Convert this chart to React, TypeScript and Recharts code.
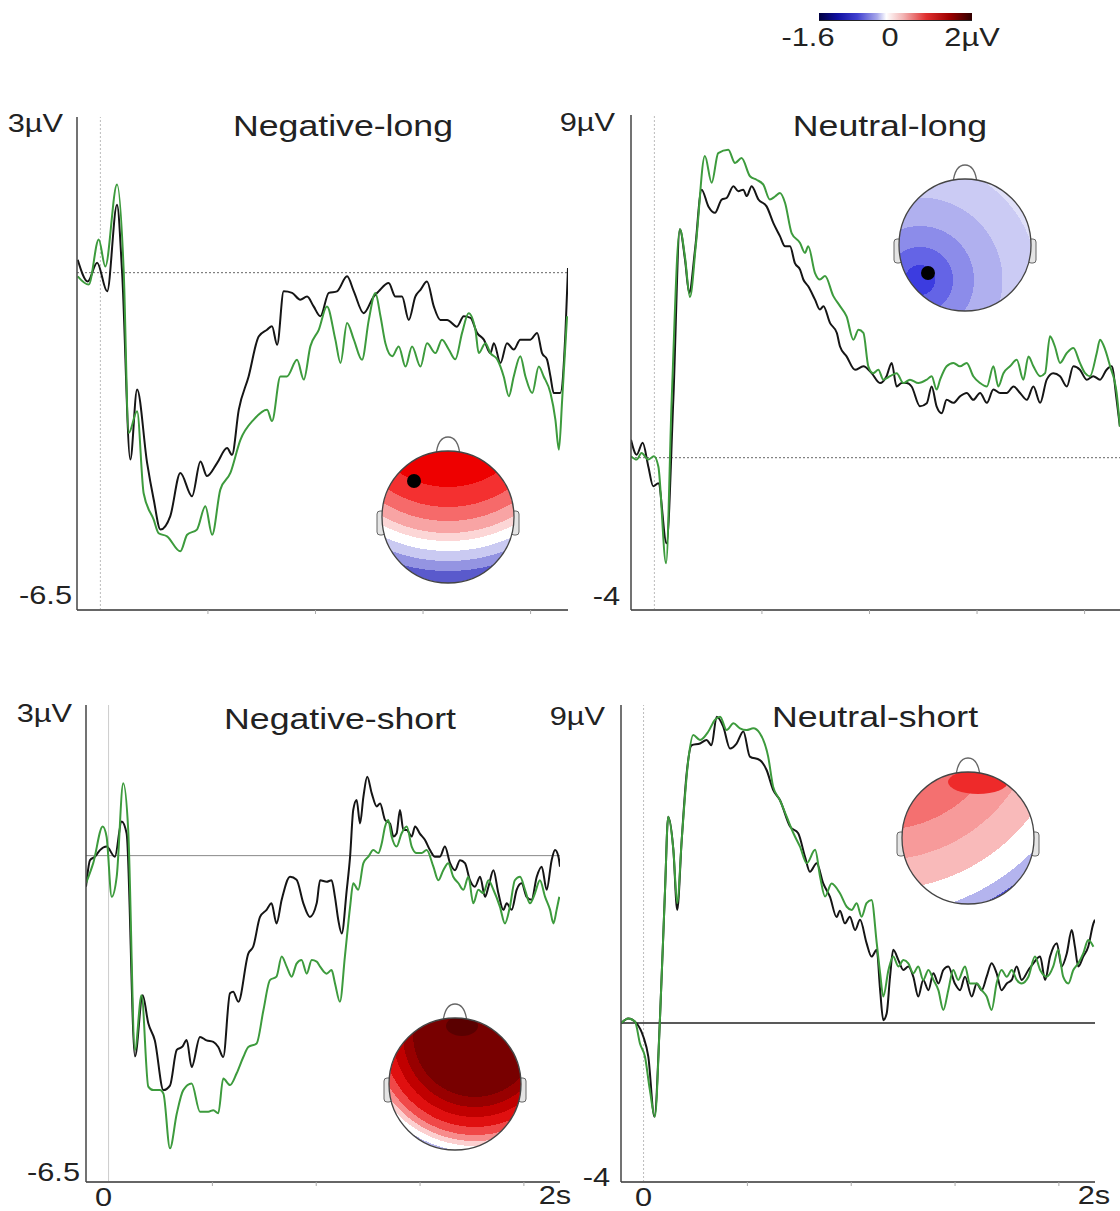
import React from 'react';
import { LineChart, Line, XAxis, YAxis, ReferenceLine } from 'recharts';

type Pt = [number, number];

// ---- Negative-long (time s, amplitude µV)
const negLongBlack: Pt[] = [
  [-0.097, 0.25], [-0.054, -0.17], [-0.014, 0.19], [0.029, -0.36], [0.071, 1.31], [0.093, 0], [0.128, -3.6], [0.157, -2.25],
  [0.2, -3.67], [0.228, -4.37], [0.257, -4.95], [0.299, -4.69], [0.342, -3.86], [0.392, -4.31], [0.428, -3.64], [0.456, -3.92],
  [0.499, -3.67], [0.542, -3.38], [0.563, -3.51], [0.592, -2.64], [0.634, -2.0], [0.677, -1.23], [0.713, -1.1], [0.734, -1.03],
  [0.756, -1.39], [0.784, -0.36], [0.82, -0.39], [0.855, -0.52], [0.884, -0.46], [0.912, -0.65], [0.941, -0.84], [0.977, -0.39],
  [1.012, -0.36], [1.055, -0.07], [1.084, -0.36], [1.126, -0.78], [1.169, -0.46], [1.19, -0.36], [1.233, -0.2], [1.262, -0.46],
  [1.29, -0.46], [1.319, -0.91], [1.347, -0.46], [1.369, -0.33], [1.397, -0.17], [1.426, -0.65], [1.454, -0.91], [1.483, -0.91],
  [1.525, -1.04], [1.554, -0.84], [1.583, -0.87], [1.611, -1.16], [1.64, -1.29], [1.668, -1.55], [1.683, -1.36], [1.711, -1.74],
  [1.739, -1.36], [1.768, -1.48], [1.796, -1.29], [1.839, -1.29], [1.868, -1.16], [1.889, -1.55], [1.91, -1.67], [1.925, -2.0],
  [1.939, -2.32], [1.967, -2.32], [1.989, -1.16], [2.0, 0.09],
];
const negLongGreen: Pt[] = [
  [-0.097, -0.07], [-0.05, -0.23], [-0.007, 0.64], [0.021, 0.12], [0.071, 1.7], [0.1, 0], [0.121, -3.09], [0.157, -2.67],
  [0.185, -4.25], [0.228, -4.76], [0.249, -5.02], [0.285, -5.08], [0.342, -5.37], [0.371, -5.05], [0.413, -4.95], [0.449, -4.5],
  [0.478, -5.05], [0.513, -4.18], [0.556, -3.86], [0.599, -3.22], [0.656, -2.83], [0.713, -2.64], [0.734, -2.86], [0.77, -2.0],
  [0.798, -2.0], [0.841, -1.68], [0.87, -2.06], [0.898, -1.42], [0.934, -1.1], [0.969, -0.65], [1.005, -1.29], [1.027, -1.74],
  [1.055, -0.97], [1.084, -1.29], [1.119, -1.68], [1.148, -0.91], [1.176, -0.39], [1.198, -0.84], [1.219, -1.36], [1.248, -1.61],
  [1.276, -1.42], [1.305, -1.81], [1.333, -1.42], [1.369, -1.81], [1.397, -1.36], [1.433, -1.55], [1.461, -1.29], [1.49, -1.48],
  [1.518, -1.67], [1.547, -1.16], [1.575, -0.78], [1.604, -1.1], [1.618, -1.55], [1.647, -1.36], [1.668, -1.55], [1.697, -1.67],
  [1.725, -2.0], [1.747, -2.38], [1.768, -2.0], [1.796, -1.61], [1.818, -2.0], [1.847, -2.32], [1.875, -1.81], [1.896, -2.0],
  [1.925, -2.32], [1.946, -2.83], [1.961, -3.41], [1.975, -2.45], [1.996, -0.84],
];

// ---- Neutral-long
const neuLongBlack: Pt[] = [
  [-0.1, 0.47], [-0.076, 0.08], [-0.05, 0.39], [-0.026, -0.23], [-0.005, -0.75], [0.017, -0.67], [0.052, -2.25], [0.081, 1.52],
  [0.109, 6.0], [0.131, 5.2], [0.149, 4.33], [0.174, 5.47], [0.202, 7.04], [0.231, 6.6], [0.259, 6.43], [0.288, 6.78],
  [0.309, 6.82], [0.338, 7.13], [0.359, 7.0], [0.38, 7.04], [0.395, 6.87], [0.416, 7.13], [0.445, 6.78], [0.48, 6.6],
  [0.509, 6.16], [0.537, 5.82], [0.559, 5.55], [0.58, 5.55], [0.601, 5.11], [0.623, 4.94], [0.637, 4.68], [0.658, 4.5],
  [0.687, 4.15], [0.708, 3.89], [0.723, 3.98], [0.751, 3.54], [0.78, 3.28], [0.794, 2.92], [0.822, 2.66], [0.858, 2.31],
  [0.894, 2.4], [0.929, 2.22], [0.965, 1.96], [0.993, 2.14], [1.015, 2.49], [1.036, 1.87], [1.058, 1.96], [1.079, 1.96],
  [1.1, 1.87], [1.136, 1.35], [1.165, 1.43], [1.186, 1.87], [1.207, 1.35], [1.229, 1.17], [1.25, 1.52], [1.279, 1.44],
  [1.307, 1.61], [1.336, 1.7], [1.364, 1.52], [1.393, 1.7], [1.422, 1.44], [1.45, 1.79], [1.479, 1.7], [1.507, 1.7],
  [1.536, 1.87], [1.564, 1.7], [1.593, 1.52], [1.621, 1.87], [1.65, 1.44], [1.678, 2.05], [1.706, 2.22], [1.735, 2.14],
  [1.764, 1.87], [1.792, 2.4], [1.82, 2.31], [1.849, 2.05], [1.877, 2.14], [1.906, 2.05], [1.934, 2.31], [1.956, 2.4],
  [1.977, 1.52], [1.991, 0.82],
];
const neuLongGreen: Pt[] = [
  [-0.1, 0.04], [-0.076, -0.05], [-0.055, 0.12], [-0.026, -0.05], [-0.002, 0.04], [0.017, -0.23], [0.05, -2.77], [0.074, 1.52],
  [0.109, 6.0], [0.131, 5.27], [0.152, 4.22], [0.178, 5.62], [0.216, 7.92], [0.245, 7.22], [0.273, 8.0], [0.316, 8.09],
  [0.345, 7.74], [0.373, 7.87], [0.409, 7.39], [0.437, 7.3], [0.466, 7.17], [0.494, 6.78], [0.516, 6.86], [0.537, 6.95],
  [0.559, 6.69], [0.587, 5.9], [0.623, 5.64], [0.644, 5.38], [0.658, 5.55], [0.687, 4.85], [0.708, 4.68], [0.73, 4.77],
  [0.765, 4.25], [0.794, 3.98], [0.822, 3.71], [0.851, 3.1], [0.873, 3.36], [0.894, 3.28], [0.915, 2.4], [0.936, 2.22],
  [0.958, 2.31], [0.979, 2.05], [1.008, 2.14], [1.036, 2.22], [1.065, 1.96], [1.093, 2.05], [1.129, 1.96], [1.165, 2.05],
  [1.186, 2.14], [1.207, 1.79], [1.222, 2.05], [1.25, 2.4], [1.279, 2.49], [1.307, 2.4], [1.336, 2.49], [1.364, 2.14],
  [1.393, 1.96], [1.422, 1.87], [1.45, 2.4], [1.471, 1.87], [1.493, 2.22], [1.521, 2.4], [1.55, 2.57], [1.578, 2.05],
  [1.6, 2.66], [1.621, 2.4], [1.65, 2.14], [1.671, 2.22], [1.692, 3.19], [1.713, 2.92], [1.735, 2.49], [1.764, 2.75],
  [1.792, 2.88], [1.82, 2.49], [1.842, 2.22], [1.863, 2.14], [1.892, 2.75], [1.906, 3.1], [1.928, 2.84], [1.949, 2.4],
  [1.977, 1.7], [1.991, 0.82],
];

// ---- Negative-short
const negShortBlack: Pt[] = [
  [-0.1, -0.62], [-0.082, -0.09], [-0.06, -0.02], [-0.038, 0.11], [-0.009, 0.18], [0.028, -0.02], [0.058, 0.68], [0.08, 0.44],
  [0.117, -4.0], [0.151, -2.78], [0.176, -3.34], [0.205, -3.68], [0.243, -4.67], [0.272, -4.58], [0.302, -3.87], [0.328, -3.8],
  [0.346, -3.67], [0.368, -4.21], [0.405, -3.61], [0.434, -3.68], [0.464, -3.71], [0.486, -3.81], [0.508, -4.01], [0.538, -2.74],
  [0.552, -2.71], [0.575, -2.91], [0.619, -1.95], [0.641, -1.81], [0.671, -1.22], [0.7, -1.08], [0.722, -0.95], [0.744, -1.35],
  [0.767, -0.88], [0.804, -0.42], [0.833, -0.48], [0.863, -0.95], [0.892, -1.22], [0.922, -0.95], [0.937, -0.49], [0.966, -0.52],
  [0.988, -0.49], [1.003, -0.82], [1.018, -1.29], [1.033, -1.55], [1.055, -0.69], [1.07, -0.02], [1.084, 0.91], [1.099, 1.11],
  [1.114, 0.64], [1.129, 1.17], [1.146, 1.57], [1.166, 1.24], [1.188, 0.98], [1.203, 1.04], [1.225, 0.71], [1.247, 0.64],
  [1.262, 0.38], [1.276, 0.44], [1.291, 0.91], [1.306, 0.51], [1.321, 0.51], [1.343, 0.38], [1.358, 0.58], [1.379, 0.44],
  [1.402, 0.31], [1.424, 0.11], [1.446, -0.02], [1.468, -0.02], [1.49, 0.18], [1.513, -0.15], [1.535, -0.29], [1.557, -0.09],
  [1.579, -0.15], [1.601, -0.49], [1.623, -0.62], [1.646, -0.42], [1.668, -0.82], [1.683, -0.62], [1.705, -0.29], [1.727, -0.75],
  [1.749, -1.08], [1.764, -0.95], [1.786, -1.08], [1.808, -0.68], [1.83, -0.55], [1.852, -0.82], [1.874, -0.88], [1.897, -0.42],
  [1.919, -0.22], [1.941, -0.68], [1.963, -0.09], [1.978, 0.11], [1.993, -0.02], [2.0, -0.22],
];
const negShortGreen: Pt[] = [
  [-0.1, -0.55], [-0.068, -0.15], [-0.026, 0.58], [-0.009, 0.38], [0.014, -0.82], [0.036, -0.42], [0.065, 1.44], [0.087, 0.51],
  [0.117, -3.87], [0.146, -2.78], [0.176, -4.6], [0.198, -4.67], [0.228, -4.67], [0.243, -4.74], [0.272, -5.83], [0.302, -5.14],
  [0.331, -4.67], [0.368, -4.54], [0.405, -5.1], [0.442, -5.1], [0.464, -5.07], [0.486, -5.13], [0.508, -4.44], [0.538, -4.57],
  [0.567, -4.34], [0.597, -4.01], [0.619, -3.81], [0.656, -3.74], [0.686, -3.08], [0.715, -2.48], [0.744, -2.41], [0.767, -2.01],
  [0.789, -2.21], [0.811, -2.41], [0.833, -2.15], [0.855, -2.08], [0.878, -2.35], [0.9, -2.08], [0.922, -2.11], [0.937, -2.21],
  [0.966, -2.35], [0.988, -2.28], [1.003, -2.54], [1.025, -2.91], [1.047, -2.01], [1.07, -1.02], [1.084, -0.55], [1.106, -0.68],
  [1.129, -0.15], [1.151, -0.02], [1.173, 0.11], [1.195, 0.05], [1.21, 0.24], [1.225, 0.58], [1.239, 0.71], [1.254, 0.38],
  [1.276, 0.18], [1.298, 0.44], [1.321, 0.58], [1.343, 0.18], [1.365, 0.05], [1.387, 0.05], [1.409, 0.11], [1.439, -0.22],
  [1.461, -0.49], [1.483, -0.29], [1.505, -0.15], [1.527, -0.42], [1.55, -0.55], [1.572, -0.68], [1.594, -0.42], [1.616, -0.95],
  [1.638, -0.68], [1.66, -0.75], [1.683, -0.49], [1.705, -0.68], [1.734, -1.02], [1.756, -1.35], [1.778, -1.02], [1.8, -0.49],
  [1.823, -0.42], [1.845, -0.68], [1.867, -0.95], [1.889, -0.75], [1.911, -0.49], [1.934, -0.82], [1.956, -1.08], [1.971, -1.35],
  [1.985, -1.08], [1.997, -0.82],
];

// ---- Neutral-short
const neuShortBlack: Pt[] = [
  [-0.1, -0.01], [-0.068, 0.13], [-0.031, -0.01], [-0.001, -0.39], [0.021, -0.95], [0.048, -2.65], [0.073, 0.18], [0.095, 3.75],
  [0.109, 5.84], [0.132, 4.9], [0.149, 3.2], [0.169, 5.18], [0.191, 7.07], [0.213, 7.86], [0.25, 7.91], [0.279, 8.01],
  [0.301, 7.86], [0.324, 8.67], [0.353, 8.39], [0.383, 7.77], [0.412, 7.91], [0.442, 8.25], [0.471, 7.54], [0.515, 7.44],
  [0.545, 7.16], [0.574, 6.6], [0.604, 6.31], [0.649, 5.56], [0.685, 5.37], [0.715, 4.71], [0.737, 4.28], [0.767, 4.52],
  [0.796, 3.95], [0.826, 3.57], [0.855, 3.0], [0.87, 3.18], [0.892, 2.82], [0.914, 3.01], [0.937, 2.63], [0.959, 2.92],
  [0.988, 2.26], [1.01, 1.88], [1.033, 2.07], [1.048, 0.93], [1.062, 0.08], [1.077, 0.27], [1.092, 1.31], [1.106, 2.07],
  [1.129, 1.78], [1.151, 1.5], [1.173, 1.6], [1.195, 1.31], [1.217, 0.75], [1.239, 1.22], [1.262, 0.93], [1.284, 1.41],
  [1.306, 1.12], [1.328, 1.5], [1.35, 1.6], [1.379, 1.12], [1.402, 0.93], [1.424, 1.31], [1.454, 0.75], [1.476, 1.12],
  [1.498, 0.93], [1.52, 1.31], [1.542, 1.69], [1.564, 1.41], [1.586, 0.93], [1.609, 1.12], [1.631, 1.22], [1.653, 1.6],
  [1.675, 1.22], [1.705, 1.5], [1.727, 1.69], [1.757, 1.88], [1.779, 1.22], [1.801, 1.88], [1.831, 2.26], [1.852, 1.6],
  [1.875, 1.97], [1.897, 2.63], [1.911, 2.16], [1.926, 1.6], [1.948, 1.88], [1.97, 2.16], [1.993, 2.82], [2.0, 2.92],
];
const neuShortGreen: Pt[] = [
  [-0.1, -0.01], [-0.068, 0.13], [-0.038, 0.04], [-0.016, -0.58], [0.006, -0.95], [0.028, -1.9], [0.05, -2.65], [0.073, 0.18],
  [0.095, 3.75], [0.109, 5.84], [0.132, 4.9], [0.149, 3.39], [0.169, 5.18], [0.198, 7.44], [0.22, 8.15], [0.25, 8.01],
  [0.287, 8.25], [0.316, 8.58], [0.339, 8.67], [0.368, 8.29], [0.398, 8.48], [0.427, 8.34], [0.456, 8.29], [0.486, 8.34],
  [0.515, 8.2], [0.552, 7.54], [0.574, 6.69], [0.604, 6.31], [0.634, 5.84], [0.664, 5.37], [0.693, 4.99], [0.723, 4.52],
  [0.76, 4.9], [0.782, 4.14], [0.804, 3.58], [0.833, 3.95], [0.87, 3.67], [0.9, 3.29], [0.922, 3.2], [0.944, 3.39],
  [0.966, 3.01], [0.988, 3.39], [1.01, 3.48], [1.033, 2.26], [1.048, 1.41], [1.062, 0.75], [1.085, 1.5], [1.106, 1.88],
  [1.129, 1.6], [1.151, 1.78], [1.173, 1.69], [1.195, 1.41], [1.217, 1.6], [1.239, 1.22], [1.262, 1.5], [1.284, 1.22],
  [1.306, 0.93], [1.328, 0.37], [1.35, 0.93], [1.372, 1.5], [1.394, 1.22], [1.424, 1.6], [1.446, 1.12], [1.476, 1.12],
  [1.498, 0.93], [1.52, 0.75], [1.542, 0.37], [1.564, 1.12], [1.586, 1.5], [1.609, 1.31], [1.631, 1.5], [1.653, 1.22],
  [1.675, 1.12], [1.705, 1.31], [1.734, 1.88], [1.757, 1.5], [1.786, 1.31], [1.815, 1.6], [1.837, 2.07], [1.859, 1.31],
  [1.882, 1.12], [1.904, 1.5], [1.926, 1.69], [1.948, 1.97], [1.97, 2.35], [1.993, 2.16],
];

// ---- axes / labels
const timeDomain: [number, number] = [-0.1, 2.0];
const minorTimeTicks = [0.46, 0.92, 1.38, 1.84];
const labelledTimeTicks = [0, 0.46, 0.92, 1.38, 1.84, 2.0];
const timeTickLabels: Record<string, string> = { '0': '0', '2': '2s' };
const titles = ['Negative-long', 'Neutral-long', 'Negative-short', 'Neutral-short'];
const colorbarLabels = ['-1.6', '0', '2µV'];

const FONT = '"Liberation Sans", Arial, Helvetica, sans-serif';
const SX = 1.23;
const BLACK = '#151515';
const GREEN = '#3d9b3d';

const toData = (pts: Pt[]) => pts.map(([t, v]) => ({ t, v }));

type YLab = { value: number; text: string; gap: number; dy: number };

const YTick = (props: any) => {
  const { x, y, payload, labels } = props;
  const lab = (labels as YLab[]).find((l) => l.value === payload.value);
  if (!lab) return null;
  return (
    <text
      transform={`translate(${x - lab.gap},${y + lab.dy}) scale(${SX},1)`}
      textAnchor="end"
      dominantBaseline="central"
      fontSize={25}
      fill="#222"
      fontFamily={FONT}
    >
      {lab.text}
    </text>
  );
};

const XTick = (props: any) => {
  const { x, y, payload, showLabels, labelDx, labelDy } = props;
  const v = payload.value as number;
  const key = String(v);
  return (
    <g>
      {v > 0.01 && v < 1.99 ? <line x1={x} x2={x} y1={y} y2={y + 4} stroke="#aaa" strokeWidth={1} /> : null}
      {showLabels && timeTickLabels[key] !== undefined ? (
        <text
          transform={`translate(${x + (v === 0 ? labelDx[0] : labelDx[1])},${y + (v === 0 ? labelDy[0] : labelDy[1])}) scale(${SX},1)`}
          textAnchor="middle"
          fontSize={25}
          fill="#222"
          fontFamily={FONT}
        >
          {timeTickLabels[key]}
        </text>
      ) : null}
    </g>
  );
};

type PanelCfg = {
  plotX: number; plotY: number; plotW: number; plotH: number;
  yDomain: [number, number]; yTicks: number[]; yLabels: YLab[];
  black: Pt[]; green: Pt[];
  zero: { stroke: string; dash?: string; width: number };
  zeroTime: { stroke: string; dash?: string };
  showXLabels: boolean; labelDx: [number, number]; labelDy: [number, number];
};

function Panel({ cfg }: { cfg: PanelCfg }) {
  const L = 80, T = 10, R = 25, B = 28;
  return (
    <div style={{ position: 'absolute', left: cfg.plotX - L, top: cfg.plotY - T }}>
      <LineChart width={cfg.plotW + L + R} height={cfg.plotH + T + B} margin={{ top: T, right: R, bottom: 0, left: 0 }}>
        <XAxis
          type="number"
          dataKey="t"
          domain={timeDomain}
          allowDataOverflow
          ticks={cfg.showXLabels ? labelledTimeTicks : minorTimeTicks}
          interval={0}
          height={B}
          axisLine={{ stroke: '#666', strokeWidth: 2 }}
          tickLine={false}
          tickSize={0}
          tickMargin={0}
          tick={<XTick showLabels={cfg.showXLabels} labelDx={cfg.labelDx} labelDy={cfg.labelDy} />}
        />
        <YAxis
          type="number"
          domain={cfg.yDomain}
          allowDataOverflow
          ticks={cfg.yTicks}
          interval={0}
          width={L}
          axisLine={{ stroke: '#444', strokeWidth: 1.5 }}
          tickLine={false}
          tickSize={0}
          tickMargin={0}
          tick={<YTick labels={cfg.yLabels} />}
        />
        <ReferenceLine x={0} stroke={cfg.zeroTime.stroke} strokeDasharray={cfg.zeroTime.dash} strokeWidth={1} />
        <ReferenceLine y={0} stroke={cfg.zero.stroke} strokeDasharray={cfg.zero.dash} strokeWidth={cfg.zero.width} />
        <Line data={toData(cfg.black)} dataKey="v" type="monotone" stroke={BLACK} strokeWidth={2} dot={false} isAnimationActive={false} />
        <Line data={toData(cfg.green)} dataKey="v" type="monotone" stroke={GREEN} strokeWidth={2} dot={false} isAnimationActive={false} />
      </LineChart>
    </div>
  );
}

const panels: PanelCfg[] = [
  {
    plotX: 77, plotY: 117, plotW: 491, plotH: 493, yDomain: [-6.5, 3], yTicks: [-6.5, 3],
    yLabels: [{ value: 3, text: '3µV', gap: 14, dy: 7 }, { value: -6.5, text: '-6.5', gap: 5, dy: -14 }],
    black: negLongBlack, green: negLongGreen,
    zero: { stroke: '#666', dash: '2 2', width: 1 }, zeroTime: { stroke: '#bbb', dash: '2 2' },
    showXLabels: false, labelDx: [0, 0], labelDy: [0, 0],
  },
  {
    plotX: 631, plotY: 115, plotW: 491, plotH: 495, yDomain: [-4, 9], yTicks: [-4, 9],
    yLabels: [{ value: 9, text: '9µV', gap: 16, dy: 8 }, { value: -4, text: '-4', gap: 11, dy: -13 }],
    black: neuLongBlack, green: neuLongGreen,
    zero: { stroke: '#666', dash: '2 2', width: 1 }, zeroTime: { stroke: '#bbb', dash: '2 2' },
    showXLabels: false, labelDx: [0, 0], labelDy: [0, 0],
  },
  {
    plotX: 86, plotY: 705, plotW: 474, plotH: 477, yDomain: [-6.5, 3], yTicks: [-6.5, 3],
    yLabels: [{ value: 3, text: '3µV', gap: 14, dy: 9 }, { value: -6.5, text: '-6.5', gap: 6, dy: -9 }],
    black: negShortBlack, green: negShortGreen,
    zero: { stroke: '#888', width: 1 }, zeroTime: { stroke: '#ccc' },
    showXLabels: true, labelDx: [-5, -5], labelDy: [24, 22],
  },
  {
    plotX: 621, plotY: 705, plotW: 474, plotH: 477, yDomain: [-4.5, 9], yTicks: [-4, 9],
    yLabels: [{ value: 9, text: '9µV', gap: 16, dy: 12 }, { value: -4, text: '-4', gap: 11, dy: 13 }],
    black: neuShortBlack, green: neuShortGreen,
    zero: { stroke: '#222', width: 1.5 }, zeroTime: { stroke: '#bbb', dash: '2 2' },
    showXLabels: true, labelDx: [0, -1], labelDy: [24, 22],
  },
];

type Band = [number, string];
const bandStops = (bands: Band[]) => {
  const out: React.ReactElement[] = [];
  let prev = 0;
  bands.forEach(([end, color], i) => {
    out.push(<stop key={`${i}a`} offset={prev} stopColor={color} />);
    out.push(<stop key={`${i}b`} offset={end} stopColor={color} />);
    prev = end;
  });
  return out;
};

const headNegLong: Band[] = [
  [0.45, '#ee0000'], [0.55, '#f43030'], [0.62, '#f66a6a'], [0.68, '#f8a4a4'], [0.72, '#fcd6d6'],
  [0.77, '#ffffff'], [0.82, '#cacaf2'], [0.87, '#9494e2'], [1, '#5a5acc'],
];
const headNeuLong: Band[] = [
  [0.1, '#3c3ce0'], [0.22, '#6464e6'], [0.36, '#8c8cea'], [0.55, '#b0b0ef'], [0.78, '#cbcbf4'], [1, '#e0e0f9'],
];
const headNegShort: Band[] = [
  [0.413, '#780000'], [0.48, '#980000'], [0.547, '#c00000'], [0.613, '#e01010'], [0.667, '#f04848'],
  [0.707, '#f78c8c'], [0.74, '#fcd0d0'], [0.78, '#ffffff'], [0.82, '#b8b8ee'], [1, '#6060d8'],
];
const headNeuShort: Band[] = [
  [0.52, '#f47070'], [0.64, '#f79a9a'], [0.76, '#f9baba'], [0.86, '#ffffff'], [0.912, '#b4b4ee'], [0.96, '#5050d8'], [1, '#2828c8'],
];

function Head({ id, cx, cy, r, grad, dot, spot }: { id: string; cx: number; cy: number; r: number; grad: string; dot?: [number, number]; spot?: [number, number, number, number, string] }) {
  return (
    <g>
      <defs>
        <clipPath id={`clip-${id}`}>
          <circle cx={cx} cy={cy} r={r} />
        </clipPath>
      </defs>
      <rect x={cx - r - 5} y={cy - 6} width={8} height={24} rx={3} fill="#e4e4e4" stroke="#666" strokeWidth={1} />
      <rect x={cx + r - 3} y={cy - 6} width={8} height={24} rx={3} fill="#e4e4e4" stroke="#666" strokeWidth={1} />
      <path
        d={`M ${cx - 12} ${cy - r + 4} Q ${cx - 10} ${cy - r - 14} ${cx} ${cy - r - 14} Q ${cx + 10} ${cy - r - 14} ${cx + 12} ${cy - r + 4}`}
        fill="#fff"
        stroke="#666"
        strokeWidth={1.3}
      />
      <circle cx={cx} cy={cy} r={r} fill={`url(#${grad})`} />
      {spot ? (
        <ellipse cx={spot[0]} cy={spot[1]} rx={spot[2]} ry={spot[3]} fill={spot[4]} clipPath={`url(#clip-${id})`} />
      ) : null}
      <circle cx={cx} cy={cy} r={r} fill="none" stroke="#444" strokeWidth={1.3} />
      {dot ? <circle cx={dot[0]} cy={dot[1]} r={7} fill="#000" /> : null}
    </g>
  );
}

export default function App() {
  const textProps = { fontSize: 29, fill: '#222', fontFamily: FONT, textAnchor: 'middle' as const };
  return (
    <div style={{ position: 'absolute', left: 0, top: 0, width: 1120, height: 1211, overflow: 'hidden', background: '#fff' }}>
      {panels.map((p, i) => (
        <Panel key={i} cfg={p} />
      ))}
      <svg width={1120} height={1211} style={{ position: 'absolute', left: 0, top: 0, pointerEvents: 'none' }}>
        <defs>
          <linearGradient id="cbar" x1="0" x2="1" y1="0" y2="0">
            <stop offset={0} stopColor="#000040" />
            <stop offset={0.12} stopColor="#1010a0" />
            <stop offset={0.25} stopColor="#4040d0" />
            <stop offset={0.38} stopColor="#a8a8ea" />
            <stop offset={0.44} stopColor="#ffffff" />
            <stop offset={0.55} stopColor="#f2b4b4" />
            <stop offset={0.7} stopColor="#e03030" />
            <stop offset={0.85} stopColor="#a00000" />
            <stop offset={1} stopColor="#300000" />
          </linearGradient>
          <radialGradient id="h1" gradientUnits="userSpaceOnUse" cx={448} cy={397} r={200}>
            {bandStops(headNegLong)}
          </radialGradient>
          <radialGradient id="h2" gradientUnits="userSpaceOnUse" cx={920} cy={280} r={150}>
            {bandStops(headNeuLong)}
          </radialGradient>
          <radialGradient id="h3" gradientUnits="userSpaceOnUse" cx={475} cy={1035} r={150}>
            {bandStops(headNegShort)}
          </radialGradient>
          <radialGradient id="h4" gradientUnits="userSpaceOnUse" cx={880} cy={700} r={250}>
            {bandStops(headNeuShort)}
          </radialGradient>
        </defs>

        {/* colour bar */}
        <rect x={819} y={13} width={153} height={7} fill="url(#cbar)" />
        <line x1={819} x2={972} y1={20.5} y2={20.5} stroke="#222" strokeWidth={1} />
        {[808, 890, 972].map((cx, i) => (
          <text key={i} transform={`translate(${cx},46) scale(${SX},1)`} fontSize={25} fill="#222" fontFamily={FONT} textAnchor="middle">
            {colorbarLabels[i]}
          </text>
        ))}

        {/* titles */}
        <text transform={`translate(343,136) scale(${SX},1)`} {...textProps}>{titles[0]}</text>
        <text transform={`translate(890,136) scale(${SX},1)`} {...textProps}>{titles[1]}</text>
        <text transform={`translate(340,729) scale(${SX},1)`} {...textProps}>{titles[2]}</text>
        <text transform={`translate(875,727) scale(${SX},1)`} {...textProps}>{titles[3]}</text>

        {/* scalp maps */}
        <Head id="a" cx={448} cy={517} r={66} grad="h1" dot={[414, 481]} />
        <Head id="b" cx={965} cy={245} r={66} grad="h2" dot={[928, 273]} />
        <Head id="c" cx={455} cy={1084} r={66} grad="h3" spot={[462, 1026, 16, 10, '#5a0000']} />
        <Head id="d" cx={968} cy={838} r={66} grad="h4" spot={[978, 782, 30, 12, '#ee2a2a']} />
      </svg>
    </div>
  );
}
